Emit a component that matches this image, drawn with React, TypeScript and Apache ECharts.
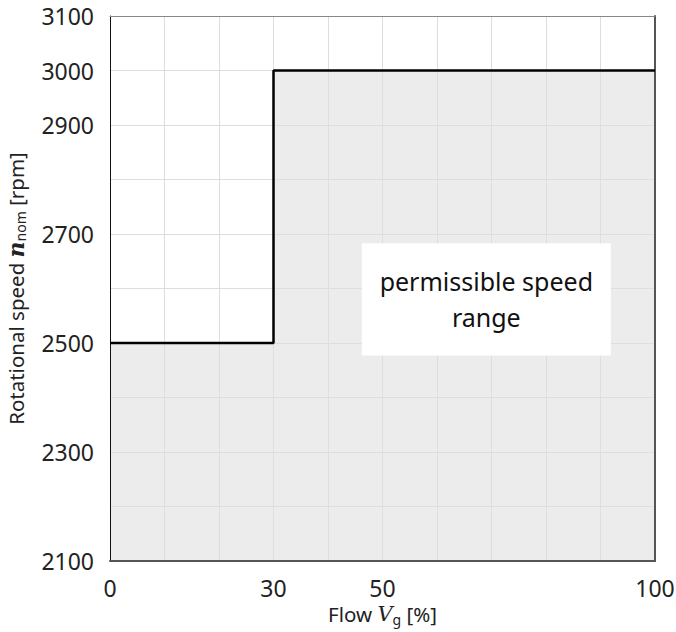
import React, { useEffect, useRef } from "react";
import * as echarts from "echarts";

const flowX = [0, 30, 30, 100];
const speedY = [2500, 2500, 3000, 3000];
const xLabelValues = [0, 30, 50, 100];
const yLabelValues = [2100, 2300, 2500, 2700, 2900, 3000, 3100];
const boxCorners = [
  [46.2, 2683],
  [91.9, 2477],
];
const boxText = "permissible speed\nrange";

const FONT = "'Noto Sans', 'Open Sans', sans-serif";

export default function App() {
  const ref = useRef<HTMLDivElement>(null);
  useEffect(() => {
    if (!ref.current) return;
    const chart = echarts.init(ref.current, null, { renderer: "svg" });
    const pts = flowX.map((x, i) => [x, speedY[i]]);
    const xBase = { type: "value", min: 0, max: 100, interval: 10 };
    const yBase = { type: "value", min: 2100, max: 3100, interval: 100 };
    chart.setOption({
      animation: false,
      backgroundColor: "#ffffff",
      grid: { left: 110, top: 16, right: 21, bottom: 71, containLabel: false, outerBoundsMode: "none" },
      xAxis: [
        {
          ...xBase,
          position: "bottom",
          z: 5,
          name: "Flow {v|V}{sub|g} [%]",
          nameLocation: "middle",
          nameGap: 39,
          nameTextStyle: {
            fontFamily: FONT,
            fontSize: 20.5,
            color: "#222",
            rich: {
              v: { fontFamily: "'DejaVu Serif', serif", fontStyle: "italic", fontSize: 21, color: "#222" },
              sub: { fontFamily: FONT, fontSize: 14, color: "#222", verticalAlign: "bottom", padding: [10, 0, 0, 0] },
            },
          },
          axisLine: { show: true, lineStyle: { color: "#555", width: 2 } },
          axisTick: { show: false },
          axisLabel: {
            margin: 15,
            fontFamily: FONT,
            fontSize: 23,
            color: "#222",
            formatter: (v: number) => (xLabelValues.includes(v) ? String(v) : ""),
          },
          splitLine: { show: true, lineStyle: { color: "#dedede", width: 1 } },
        },
        {
          ...xBase,
          position: "top",
          z: 5,
          axisLine: { show: true, onZero: false, lineStyle: { color: "#888", width: 1 } },
          axisTick: { show: false },
          axisLabel: { show: false },
          splitLine: { show: false },
        },
      ],
      yAxis: [
        {
          ...yBase,
          position: "left",
          z: 5,
          name: "Rotational speed {n|n}{sub|nom} [rpm]",
          nameLocation: "middle",
          nameGap: 83,
          nameTextStyle: {
            fontFamily: FONT,
            fontSize: 20.5,
            color: "#222",
            rich: {
              n: { fontFamily: "'DejaVu Serif', serif", fontStyle: "italic", fontWeight: "bold", fontSize: 22, color: "#222" },
              sub: { fontFamily: FONT, fontSize: 14, color: "#222", verticalAlign: "bottom", padding: [9, 0, 0, 0] },
            },
          },
          axisLine: { show: true, onZero: false, lineStyle: { color: "#111", width: 1 } },
          axisTick: { show: false },
          axisLabel: {
            margin: 16,
            fontFamily: FONT,
            fontSize: 23,
            color: "#222",
            formatter: (v: number) => (yLabelValues.includes(v) ? String(v) : ""),
          },
          splitLine: { show: true, lineStyle: { color: "#dedede", width: 1 } },
        },
        {
          ...yBase,
          position: "right",
          z: 5,
          axisLine: { show: true, onZero: false, lineStyle: { color: "#555", width: 2 } },
          axisTick: { show: false },
          axisLabel: { show: false },
          splitLine: { show: false },
        },
      ],
      series: [
        {
          type: "line",
          z: 1,
          xAxisIndex: 0,
          yAxisIndex: 0,
          data: pts,
          symbol: "none",
          lineStyle: { width: 0, opacity: 0 },
          areaStyle: { color: "#ececec", opacity: 1, origin: "start" },
          silent: true,
        },
        {
          type: "line",
          z: 10,
          xAxisIndex: 0,
          yAxisIndex: 0,
          data: pts,
          symbol: "none",
          lineStyle: { color: "#000", width: 2.5 },
          markArea: {
            silent: true,
            z: 20,
            itemStyle: { color: "#ffffff", opacity: 1 },
            label: {
              show: true,
              position: "inside",
              formatter: boxText,
              fontFamily: FONT,
              fontSize: 25,
              lineHeight: 36,
              padding: [0, 0, 6, 0],
              color: "#111",
              align: "center",
            },
            data: [[{ coord: boxCorners[0] }, { coord: boxCorners[1] }]],
          },
        },
      ],
    });
    return () => chart.dispose();
  }, []);
  return (
    <div
      ref={ref}
      style={{ position: "fixed", left: 0, top: 0, width: 676, height: 632 }}
    />
  );
}
